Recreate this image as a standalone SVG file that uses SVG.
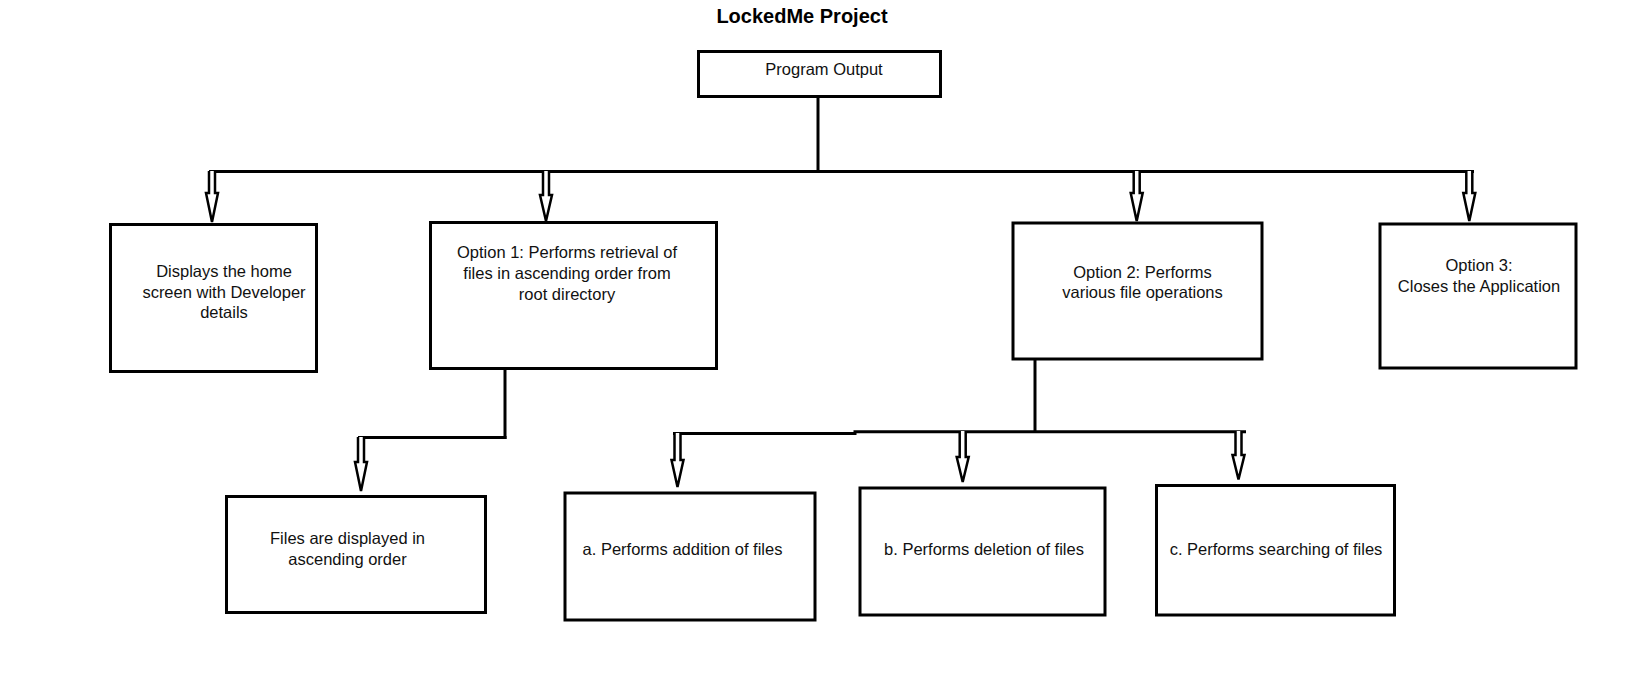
<svg xmlns="http://www.w3.org/2000/svg" width="1627" height="682" viewBox="0 0 1627 682">
<style>
.box{fill:#fff;stroke:#000;stroke-width:3}
.t{font-family:"Liberation Sans",Arial,sans-serif;font-size:16.5px;fill:#111;text-anchor:middle}
.title{font-family:"Liberation Sans",Arial,sans-serif;font-size:20px;font-weight:bold;fill:#000;text-anchor:middle}
.ln{fill:none;stroke:#000;stroke-width:3}
.ar{fill:#fff;stroke:#000;stroke-width:2.5;stroke-linejoin:miter}
</style>
<rect width="1627" height="682" fill="#fff"/>
<text class="title" x="802" y="23">LockedMe Project</text>

<g id="connectors">
<path class="ln" d="M818,97 V173"/>
<path class="ln" d="M209,171.5 H1474"/>
<path class="ln" d="M505,369 V439"/>
<path class="ln" d="M358,437.5 H506.5"/>
<path class="ln" d="M1035,360 V433"/>
<path class="ln" d="M673,433.5 H855 V431.7 H1246"/>
<path class="ar" d="M209,171 V193 H206 L212,222 L218,193 H215 V171"/>
<path class="ar" d="M543,171 V195 H540 L546,221 L552,195 H549 V171"/>
<path class="ar" d="M1133.7,171 V193 H1130.7 L1136.7,221 L1142.7,193 H1139.7 V171"/>
<path class="ar" d="M1466.3,171 V193 H1463.3 L1469.3,221 L1475.3,193 H1472.3 V171"/>
<path class="ar" d="M358,437 V462 H355 L361,491 L367,462 H364 V437"/>
<path class="ar" d="M674.5,433 V460 H671.5 L677.5,487 L683.5,460 H680.5 V433"/>
<path class="ar" d="M959.7,431 V457 H956.7 L962.7,482 L968.7,457 H965.7 V431"/>
<path class="ar" d="M1235.5,431 V455 H1232.5 L1238.5,479.5 L1244.5,455 H1241.5 V431"/>
</g>

<g id="program-output">
<rect class="box" x="698.5" y="51.5" width="242" height="45"/>
<text class="t" x="824" y="75">Program Output</text>
</g>

<g id="home-screen">
<rect class="box" x="110.5" y="224.5" width="206" height="147"/>
<text class="t" x="224" y="277">Displays the home</text>
<text class="t" x="224" y="297.5">screen with Developer</text>
<text class="t" x="224" y="318">details</text>
</g>

<g id="option1">
<rect class="box" x="430.5" y="222.5" width="286" height="146"/>
<text class="t" x="567" y="257.5">Option 1: Performs retrieval of</text>
<text class="t" x="567" y="279">files in ascending order from</text>
<text class="t" x="567" y="300">root directory</text>
</g>

<g id="option2">
<rect class="box" x="1013" y="223" width="249" height="136"/>
<text class="t" x="1142.5" y="278">Option 2: Performs</text>
<text class="t" x="1142.5" y="298">various file operations</text>
</g>

<g id="option3">
<rect class="box" x="1380" y="224" width="196" height="144"/>
<text class="t" x="1479" y="271">Option 3:</text>
<text class="t" x="1479" y="292">Closes the Application</text>
</g>

<g id="files-displayed">
<rect class="box" x="226.5" y="496.5" width="259" height="116"/>
<text class="t" x="347.5" y="544">Files are displayed in</text>
<text class="t" x="347.5" y="565">ascending order</text>
</g>

<g id="addition">
<rect class="box" x="565" y="493" width="250" height="127"/>
<text class="t" x="682.5" y="555">a. Performs addition of files</text>
</g>

<g id="deletion">
<rect class="box" x="860" y="488" width="245" height="127"/>
<text class="t" x="984" y="554.5">b. Performs deletion of files</text>
</g>

<g id="searching">
<rect class="box" x="1156.5" y="485.5" width="238" height="129.5"/>
<text class="t" x="1276" y="555">c. Performs searching of files</text>
</g>
</svg>
